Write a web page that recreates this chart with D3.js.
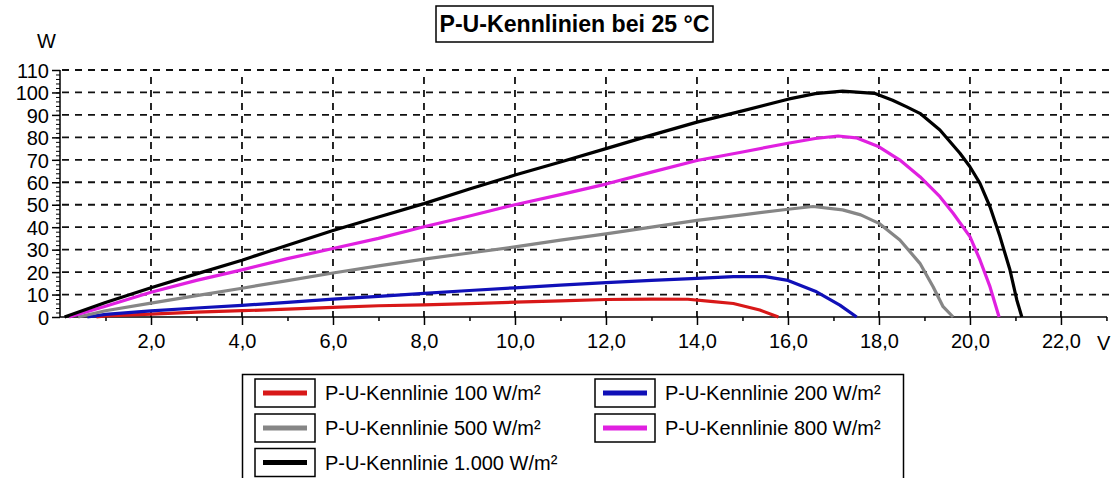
<!DOCTYPE html>
<html><head><meta charset="utf-8">
<script src="https://cdn.jsdelivr.net/npm/d3@7"></script>
<style>body{margin:0;background:#fff;overflow:hidden} text{font-family:"Liberation Sans",Arial,sans-serif;fill:#000}</style>
</head><body><svg id="c" width="1114" height="478"></svg>
<script>
const title = "P-U-Kennlinien bei 25 °C";
const yUnit = "W";
const xUnit = "V";
const seriesNames = ["P-U-Kennlinie 100 W/m²", "P-U-Kennlinie 200 W/m²", "P-U-Kennlinie 500 W/m²", "P-U-Kennlinie 800 W/m²", "P-U-Kennlinie 1.000 W/m²"];
const seriesColors = ["#d81818", "#1010b8", "#868686", "#e020e0", "#000000"];

const u100 = [0.8, 1, 2, 3, 4, 5, 6, 7, 8, 9, 10, 11, 12, 13, 13.8, 14.3, 14.8, 15.38, 15.79];
const p100 = [0, 0.5, 1.3, 2.2, 2.8, 3.5, 4.3, 5.0, 5.4, 6.0, 6.6, 7.2, 7.8, 8.0, 7.9, 7.0, 6.0, 3.1, 0];

const u200 = [0.6, 1, 2, 3, 4, 5, 6, 7, 8, 9, 10, 11, 12, 13, 14, 14.8, 15.5, 16, 16.6, 17.14, 17.51];
const p200 = [0, 1.2, 2.7, 4.0, 5.2, 6.5, 8.0, 9.2, 10.5, 11.8, 13.0, 14.2, 15.3, 16.3, 17.2, 18.0, 18.0, 16.3, 11.5, 5.3, 0];

const u500 = [0.4, 1, 2, 3, 4, 5, 6, 7, 8, 9, 10, 11, 12, 13, 14, 15, 16, 16.55, 17.2, 17.6, 18, 18.46, 18.9, 19.19, 19.41, 19.63];
const p500 = [0, 2.8, 6.2, 9.5, 12.8, 16.2, 19.6, 22.8, 25.8, 28.5, 31.2, 34.2, 37.0, 40.0, 43.0, 45.5, 48.0, 49.2, 47.7, 45.5, 41.7, 34.3, 23.9, 13.5, 4.6, 0];

const u800 = [0.2, 1, 2, 3, 4, 5, 6, 7, 8, 9, 10, 11, 12, 13, 14, 15, 16, 16.6, 17.1, 17.5, 18, 18.46, 18.9, 19.34, 19.63, 20, 20.22, 20.44, 20.64];
const p800 = [0, 4.8, 11.0, 16.3, 21.0, 26.0, 30.5, 35.0, 40.2, 45.0, 50.0, 54.5, 59.2, 64.5, 69.7, 73.5, 77.4, 79.5, 80.6, 79.8, 75.8, 69.9, 62.5, 53.6, 46.2, 35.8, 25.4, 13.5, 0];

const u1000 = [0.1, 1, 2, 3, 4, 5, 6, 7, 8, 9, 10, 11, 12, 13, 14, 15, 16, 16.6, 17.2, 17.9, 18.3, 18.6, 18.9, 19.34, 19.78, 20, 20.22, 20.44, 20.66, 20.88, 21.03, 21.14];
const p1000 = [0, 6.5, 13.0, 19.2, 25.3, 32.0, 38.5, 44.5, 50.5, 57.0, 63.2, 69.0, 75.0, 81.0, 86.8, 91.8, 97.0, 99.5, 100.6, 99.6, 96.5, 93.7, 90.7, 83.3, 72.9, 66.9, 59.5, 49.1, 35.8, 20.9, 7.6, 0];

const seriesU = [u100, u200, u500, u800, u1000];
const seriesP = [p100, p200, p500, p800, p1000];

const xMajorTicks = [2, 4, 6, 8, 10, 12, 14, 16, 18, 20, 22];
const xMinorTicks = [1, 3, 5, 7, 9, 11, 13, 15, 17, 19, 21, 23];
const yMajorTicks = [0, 10, 20, 30, 40, 50, 60, 70, 80, 90, 100, 110];
const yMinorTicks = d3.range(0, 111, 2);

const svg = d3.select("#c");
const x = d3.scaleLinear().domain([0, 23.1]).range([60, 1111]);
const y = d3.scaleLinear().domain([0, 110]).range([317, 70]);

// title
const tg = svg.append("g");
tg.append("rect").attr("x", 436).attr("y", 6).attr("width", 277).attr("height", 36)
  .attr("fill", "#fff").attr("stroke", "#000").attr("stroke-width", 1.5);
tg.append("text").attr("x", 574.5).attr("y", 32).attr("text-anchor", "middle")
  .attr("font-size", 23).attr("font-weight", "bold").attr("textLength", 270)
  .attr("lengthAdjust", "spacingAndGlyphs").text(title);

// grid
const grid = svg.append("g").attr("stroke", "#111").attr("stroke-width", 1.8).attr("stroke-dasharray", "7,6");
grid.selectAll("line.h").data(yMajorTicks.filter(d => d > 0)).join("line")
  .attr("x1", x(0) + 2).attr("x2", x.range()[1]).attr("y1", d => y(d)).attr("y2", d => y(d));
grid.selectAll("line.v").data(xMajorTicks).join("line")
  .attr("class", "v")
  .attr("x1", d => x(d)).attr("x2", d => x(d)).attr("y1", y(110) + 7).attr("y2", y(0));

// axes
const yAxis = d3.axisLeft(y).tickValues(yMajorTicks).tickSize(8).tickPadding(3).tickFormat(d3.format("d"));
const gy = svg.append("g").attr("transform", `translate(${x(0)},0)`).call(yAxis);
gy.select(".domain").remove();
gy.selectAll("text").attr("font-size", 20).attr("dy", "0.36em");
gy.selectAll("line").attr("stroke-width", 1.5);
const yMinAxis = d3.axisLeft(y).tickValues(yMinorTicks).tickSize(4).tickFormat("");
const gym = svg.append("g").attr("transform", `translate(${x(0)},0)`).call(yMinAxis);
gym.select(".domain").remove();
svg.append("line").attr("x1", x(0)).attr("x2", x(0)).attr("y1", y(110)).attr("y2", y(0))
  .attr("stroke", "#000").attr("stroke-width", 1.5);

const xAxis = d3.axisBottom(x).tickValues(xMajorTicks).tickSize(8).tickPadding(9)
  .tickFormat(d => d3.format(".1f")(d).replace(".", ","));
const gx = svg.append("g").attr("transform", `translate(0,${y(0)})`).call(xAxis);
gx.select(".domain").remove();
gx.selectAll("text").attr("font-size", 20);
gx.selectAll("line").attr("stroke-width", 1.5);
const xMinAxis = d3.axisBottom(x).tickValues(xMinorTicks).tickSize(4).tickFormat("");
const gxm = svg.append("g").attr("transform", `translate(0,${y(0)})`).call(xMinAxis);
gxm.select(".domain").remove();
gxm.selectAll("line").attr("stroke-width", 1.5);
svg.append("line").attr("x1", x(0)).attr("x2", x.range()[1] - 4).attr("y1", y(0)).attr("y2", y(0))
  .attr("stroke", "#000").attr("stroke-width", 1.5);

svg.append("text").attr("x", 37).attr("y", 48).attr("font-size", 20).text(yUnit);
svg.append("text").attr("x", 1097).attr("y", 350).attr("font-size", 20).text(xUnit);

// curves
const line = d3.line().x(d => x(d[0])).y(d => y(d[1]));
seriesU.forEach((us, i) => {
  const pts = us.map((u, j) => [u, seriesP[i][j]]);
  svg.append("path").datum(pts).attr("d", line).attr("fill", "none")
    .attr("stroke", seriesColors[i]).attr("stroke-width", 3.2).attr("stroke-linejoin", "round");
});

// legend
const lg = svg.append("g");
lg.append("rect").attr("x", 242.5).attr("y", 374.5).attr("width", 661).attr("height", 120)
  .attr("fill", "#fff").attr("stroke", "#000").attr("stroke-width", 1.5);
const colX = [255, 595];
const rowY = [379, 414, 448.5];
seriesNames.forEach((name, i) => {
  const cx = colX[i % 2], ry = rowY[Math.floor(i / 2)];
  lg.append("rect").attr("x", cx).attr("y", ry).attr("width", 60).attr("height", 28)
    .attr("fill", "#fff").attr("stroke", "#000").attr("stroke-width", 1.5);
  lg.append("line").attr("x1", cx + 8).attr("x2", cx + 52).attr("y1", ry + 14).attr("y2", ry + 14)
    .attr("stroke", seriesColors[i]).attr("stroke-width", 5);
  lg.append("text").attr("x", cx + 70).attr("y", ry + 21).attr("font-size", 20).text(name);
});
</script></body></html>
